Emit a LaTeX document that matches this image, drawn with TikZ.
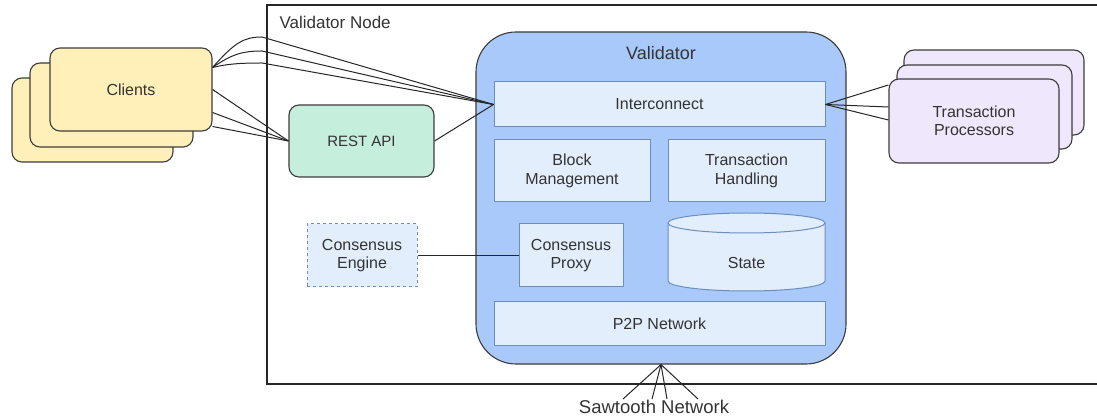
\documentclass[tikz,border=0pt]{standalone}
\usepackage{fontspec}
\setsansfont{Liberation Sans}
\definecolor{txt}{HTML}{333333}
\definecolor{edge}{HTML}{3C3C3C}
\definecolor{clientfill}{HTML}{FFF0BA}
\definecolor{restfill}{HTML}{C6EEDC}
\definecolor{tpfill}{HTML}{EFE7FB}
\definecolor{valfill}{HTML}{A9C9FA}
\definecolor{partfill}{HTML}{E3EEFD}
\definecolor{partline}{HTML}{6C8EBF}
\begin{document}
\begin{tikzpicture}[x=1pt,y=-1pt,font=\sffamily\fontsize{16}{18.5}\selectfont,text=txt,
  stack/.style={draw=edge,line width=1.1pt,rounded corners=10pt,inner sep=0pt,align=center},
  part/.style={draw=partline,fill=partfill,line width=1pt,inner sep=0pt,align=center},
  link/.style={line width=1pt,draw=black!85}]
\useasboundingbox (0,0) rectangle (1097,419);
%validator node frame
 \draw[line width=2pt,draw=black!85] (267,5) rectangle (1130,384);
 \node[anchor=west,font=\sffamily\fontsize{17}{20}\selectfont] (nodelabel) at (276,22) {Validator Node};
%clients
 \node[stack,fill=clientfill,minimum width=161pt,minimum height=84pt] (clientC) at (92.5,120) {}; %back
 \node[stack,fill=clientfill,minimum width=163pt,minimum height=84pt] (clientB) at (111.5,105) {}; %middle
 \node[stack,fill=clientfill,minimum width=162pt,minimum height=83pt] (clientA) at (131,89.5) {Clients}; %front
%transaction processors
 \node[stack,fill=tpfill,minimum width=180pt,minimum height=85pt] (tpC) at (994,92.5) {}; %back
 \node[stack,fill=tpfill,minimum width=175pt,minimum height=84pt] (tpB) at (984.5,107) {}; %middle
 \node[stack,fill=tpfill,minimum width=170pt,minimum height=84pt] (tpA) at (974,121) {Transaction\\Processors}; %front
%rest api
 \node[stack,fill=restfill,minimum width=145pt,minimum height=72pt,font=\sffamily\fontsize{15}{18}\selectfont] (rest) at (361.5,141) {REST API};
%validator
 \node[draw=edge,fill=valfill,line width=1.1pt,rounded corners=40pt,minimum width=370pt,minimum height=332pt] (validator) at (661,198) {};
 \node[font=\sffamily\fontsize{18}{20}\selectfont] (valtitle) at (661,53) {Validator};
	%parts
	\node[part,minimum width=331pt,minimum height=45pt] (interconnect) at (659.5,104.5) {Interconnect};
	\node[part,minimum width=156pt,minimum height=62pt] (block) at (572,171) {Block\\Management};
	\node[part,minimum width=157pt,minimum height=62pt] (handling) at (746.5,171) {Transaction\\Handling};
	\node[part,minimum width=104pt,minimum height=63pt] (proxy) at (571,255.5) {Consensus\\Proxy};
	\node[part,minimum width=331pt,minimum height=44pt] (p2p) at (659.5,324) {P2P Network};
	%state cylinder
	\draw[draw=partline,fill=partfill,line width=1pt] (668,223) -- (668,281) arc (180:360:78.5pt and 10pt) -- (825,223) arc (0:180:78.5pt and 10pt) -- cycle;
	\draw[draw=partline,line width=1pt] (668,223) arc (180:360:78.5pt and 10pt);
	\node (state) at (746.5,263) {State};
%consensus engine
 \node[part,dashed,dash pattern=on 3pt off 3pt,minimum width=110pt,minimum height=63pt] (engine) at (362,255.5) {Consensus\\Engine};
%connectors
	%clients to interconnect
	\draw[link] ([yshift=22pt]clientA.east) .. controls +(22,-25) and +(-18,0) .. (262,37) -- (interconnect.west);
	\draw[link] ([yshift=22pt]clientA.east) .. controls +(20,-14) and +(-18,0) .. (262,51) -- (interconnect.west);
	\draw[link] ([yshift=22pt]clientA.east) .. controls +(16,-4) and +(-18,0) .. (262,63) -- (interconnect.west);
	%clients to rest api
	\draw[link] (clientA.east) -- (rest.west);
	\draw[link] ([yshift=-23pt]clientA.east) -- (rest.west);
	\draw[link] ([yshift=-37pt]clientA.east) -- (rest.west);
	\draw[link] (rest.east) -- (interconnect.west); %rest to interconnect
	%interconnect to processors
	\draw[link] (interconnect.east) -- ([yshift=36pt]tpA.west);
	\draw[link] (interconnect.east) -- ([yshift=14pt]tpA.west);
	\draw[link] (interconnect.east) -- ([yshift=1pt]tpA.west);
	\draw[link] (engine.east) -- (proxy.west); %engine to proxy
%sawtooth network
 \node[font=\sffamily\fontsize{18.5}{20}\selectfont,inner sep=1pt] (network) at (654,407) {Sawtooth Network};
 \draw[link] (validator.south) -- ([xshift=-31pt]network.north);
 \draw[link] (validator.south) -- ([xshift=-2pt]network.north);
 \draw[link] (validator.south) -- ([xshift=13pt]network.north);
 \draw[link] (validator.south) -- ([xshift=44pt]network.north);
\end{tikzpicture}
\end{document}
